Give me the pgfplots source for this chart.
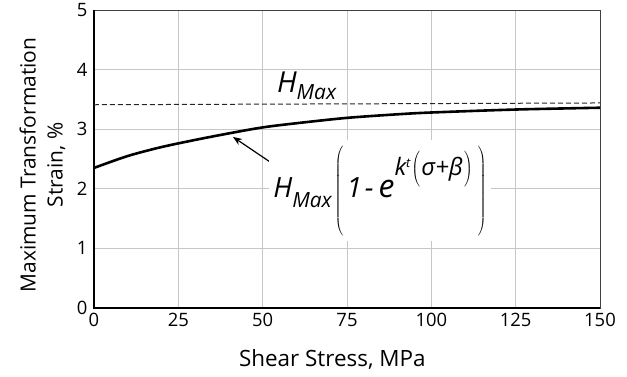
\documentclass[border=0pt]{standalone}
\usepackage{fontspec}
\setmainfont{Open Sans}
\usepackage{pgfplots}
\pgfplotsset{compat=1.18}
\usetikzlibrary{arrows.meta}
\newcommand{\lp}[2]{$\left(\vrule height #1 depth #2 width 0pt\right.$}
\newcommand{\rp}[2]{$\left.\vrule height #1 depth #2 width 0pt\right)$}
\begin{document}
\begin{tikzpicture}
\begin{axis}[
 scale only axis, width=506bp, height=298bp,
 xmin=0,xmax=150,ymin=0,ymax=5,
 xtick={0,25,...,150}, ytick={0,1,...,5},
 grid=major, grid style={draw=black!22, line width=0.8bp},
 major tick length=0pt,
 axis line style={draw=black!75, line width=0.8bp},
 tick label style={font=\fontsize{18.5}{20}\selectfont},
 /pgf/number format/assume math mode=true,
 xticklabel style={yshift=-2bp},
 yticklabel style={xshift=-3bp},
 xlabel={Shear Stress, MPa},
 ylabel={Maximum Transformation\\Strain, \%},
 ylabel style={font=\fontsize{21}{27}\selectfont, at={(axis description cs:-0.1018,0.48)}, anchor=center, align=center},
 xlabel style={font=\fontsize{22.5}{27}\selectfont, at={(axis description cs:0.471,-0.196)}, anchor=base},
 clip=false,
]
\coordinate (SW) at (rel axis cs:0,0);
\coordinate (NE) at (rel axis cs:1,1);
\draw[line width=2bp, black] (rel axis cs:0,1) -- (rel axis cs:0,0) -- (rel axis cs:1,0);
\addplot[black!85, line width=1bp, dash pattern=on 5bp off 3bp] coordinates {(0,3.41) (150,3.44)};
\addplot[black, line width=2.6bp, smooth] coordinates {(0,2.35) (10,2.55) (20,2.70) (30,2.82) (40,2.93) (50,3.03) (60,3.10) (75,3.19) (90,3.25) (100,3.28) (125,3.33) (150,3.36)};
\draw[line width=1.2bp, -{Stealth[length=9bp,width=7bp]}] (axis cs:52.2,2.45) -- (axis cs:41.2,2.87);
\node[anchor=base west, inner sep=0pt] at (axis cs:54.2,3.61) {\fontsize{29}{30}\selectfont\itshape H\raisebox{-7bp}{\fontsize{21}{21}\selectfont Max}};
\node[anchor=base west, inner sep=4bp, fill=white] at (axis cs:51.9,1.86) {\fontsize{28}{30}\selectfont\itshape
H\raisebox{-10bp}{\fontsize{21}{21}\selectfont Max}\hspace{3bp}\lp{53bp}{40bp}\hspace{2bp}1\hspace{3bp}-\hspace{5bp}{\fontsize{32}{32}\selectfont e}\raisebox{22bp}{\fontsize{24}{24}\selectfont k\raisebox{8bp}{\fontsize{13}{13}\selectfont t}\hspace{1bp}\lp{22bp}{12bp}σ+β\rp{22bp}{12bp}}\hspace{4bp}\rp{53bp}{40bp}};
\end{axis}
\pgfresetboundingbox
\path ([shift={(-94bp,-69bp)}]SW) rectangle ([shift={(27bp,10bp)}]NE);
\end{tikzpicture}
\end{document}
